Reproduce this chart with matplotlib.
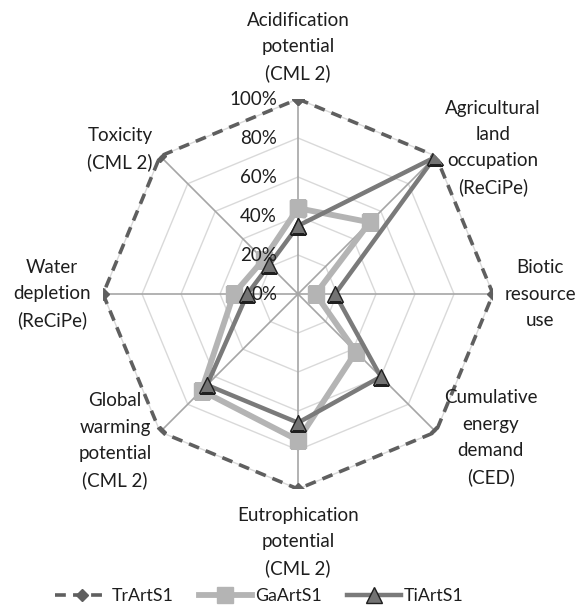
import numpy as np
import matplotlib
matplotlib.use("Agg")
import matplotlib.pyplot as plt

plt.rcParams["font.family"] = ["Lato", "DejaVu Sans"]

categories = [
    "Acidification\npotential\n(CML 2)",
    "Agricultural\nland\noccupation\n(ReCiPe)",
    "Biotic\nresource\nuse",
    "Cumulative\nenergy\ndemand\n(CED)",
    "Eutrophication\npotential\n(CML 2)",
    "Global\nwarming\npotential\n(CML 2)",
    "Water\ndepletion\n(ReCiPe)",
    "Toxicity\n(CML 2)",
]
tr_values = [1.00, 1.00, 1.00, 1.00, 1.00, 1.00, 1.00, 1.00]
ga_values = [0.44, 0.52, 0.09, 0.42, 0.75, 0.70, 0.33, 0.25]
ti_values = [0.35, 0.99, 0.19, 0.60, 0.66, 0.66, 0.26, 0.21]
r_ticks = [0.0, 0.2, 0.4, 0.6, 0.8, 1.0]
r_tick_labels = ["0%", "20%", "40%", "60%", "80%", "100%"]

# label offsets (pixels) from the 100% vertex of each spoke
label_offsets = [(0, 52), (57, 8), (47, 0), (55, -6), (0, -53), (-45, -9), (-51, 0), (-40, 7)]

FS = 13.5
TXT = "#1e1e1e"

n = len(categories)
angles = np.arange(n) * 2 * np.pi / n


def closed(vals):
    return list(vals) + [vals[0]]


theta = closed(angles)

fig = plt.figure(figsize=(5.83, 6.07), dpi=100)
ax = fig.add_axes([0.1767, 0.1944, 0.669, 0.6425], projection="polar")
ax.set_theta_zero_location("N")
ax.set_theta_direction(-1)
ax.set_ylim(0, 1)
ax.grid(False)
ax.spines["polar"].set_visible(False)
ax.set_xticks([])
ax.set_yticks([])
ax.patch.set_alpha(0)

# polygon rings and spokes
for r in r_ticks[1:]:
    ax.plot(theta, [r] * (n + 1), color="#d9d9d9", lw=1.0, zorder=1)
for a in angles:
    ax.plot([a, a], [0, 1], color="#a6a6a6", lw=1.2, zorder=1)

ax.plot(theta, closed(tr_values), color="#5f5f5f", lw=2.6, ls=(0, (3, 2)),
        marker="D", ms=6, mfc="#5f5f5f", mec="#5f5f5f", label="TrArtS1", zorder=3)
ax.plot(theta, closed(ga_values), color="#b4b4b4", lw=4.2,
        marker="s", ms=11, mfc="#b4b4b4", mec="#b4b4b4", label="GaArtS1", zorder=4)
ax.plot(theta, closed(ti_values), color="#7a7a7a", lw=3.2,
        marker="^", ms=11, mfc="#737373", mec="#1f1f1f", mew=1.0, label="TiArtS1", zorder=5)

for r, lab in zip(r_ticks, r_tick_labels):
    ax.annotate(lab, xy=(0, r), xytext=(-21, 0), textcoords="offset pixels",
                ha="right", va="center", fontsize=FS, color=TXT, zorder=6,
                annotation_clip=False)

for a, lab, off in zip(angles, categories, label_offsets):
    ax.annotate(lab, xy=(a, 1.0), xytext=off, textcoords="offset pixels",
                ha="center", va="center", fontsize=FS, color=TXT,
                linespacing=1.65, annotation_clip=False, zorder=6)

fig.legend(loc="lower center", bbox_to_anchor=(0.445, -0.022), ncol=3, frameon=False,
           fontsize=12.8, handlelength=3.0, columnspacing=1.4, handletextpad=0.2,
           labelcolor=TXT)

fig.savefig("out.png", dpi=100)
